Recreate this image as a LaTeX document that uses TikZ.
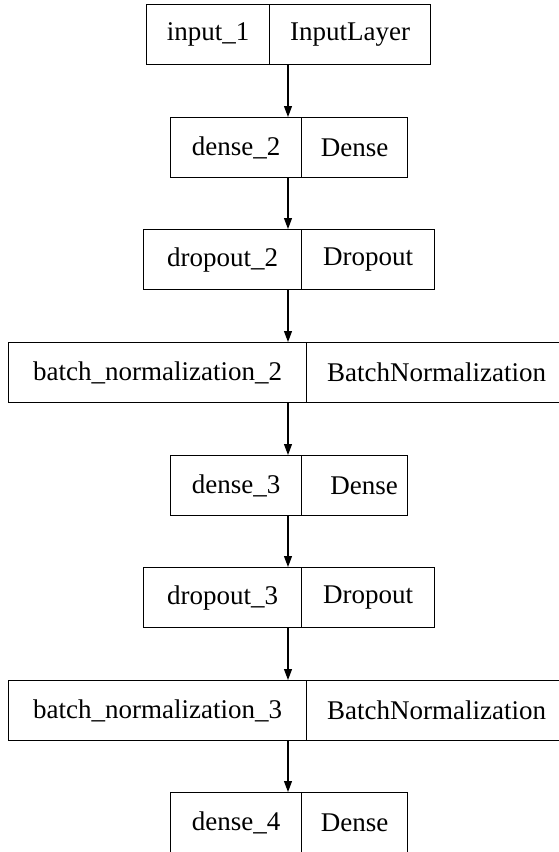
\documentclass[tikz,border=0pt]{standalone}
\usepackage{fontspec}
\setmainfont{Liberation Serif}
\usetikzlibrary{arrows.meta}

\begin{document}
\begin{tikzpicture}[x=1pt, y=-1pt,
    cell/.style={draw, line width=1.1pt, minimum height=60pt, inner sep=0pt,
        anchor=north west, font=\fontsize{27}{32}\selectfont},
    flow/.style={line width=1.1pt, -{Triangle[length=11pt, width=8pt]}}]
    \useasboundingbox (0,0) rectangle (559,852);
    \coordinate (axis) at (288,0);

    % Layer boxes: name | class
    \node[cell, minimum width=123pt] (input1) at (146,4) {input\_1};
    \node[cell, minimum width=161pt] (input1cls) at (269,4) {InputLayer};

    \node[cell, minimum width=131pt] (dense2) at (170,117) {dense\_2};
    \node[cell, minimum width=106pt] (dense2cls) at (301,117) {Dense};

    \node[cell, minimum width=158pt] (dropout2) at (143,229) {dropout\_2};
    \node[cell, minimum width=133pt] (dropout2cls) at (301,229) {Dropout};

    \node[cell, minimum width=298pt] (batchnorm2) at (8,342) {batch\_normalization\_2};
    \node[cell, minimum width=260pt] (batchnorm2cls) at (306,342) {BatchNormalization};

    \node[cell, minimum width=131pt] (dense3) at (170,455) {dense\_3};
    \node[cell, minimum width=106pt] (dense3cls) at (301,455) {\hspace*{19pt}Dense};

    \node[cell, minimum width=158pt] (dropout3) at (143,567) {dropout\_3};
    \node[cell, minimum width=133pt] (dropout3cls) at (301,567) {Dropout};

    \node[cell, minimum width=298pt] (batchnorm3) at (8,680) {batch\_normalization\_3};
    \node[cell, minimum width=260pt] (batchnorm3cls) at (306,680) {BatchNormalization};

    \node[cell, minimum width=131pt] (dense4) at (170,792) {dense\_4};
    \node[cell, minimum width=106pt] (dense4cls) at (301,792) {Dense};

    % Arrows between layers
    \foreach \a/\b in {input1/dense2, dense2/dropout2, dropout2/batchnorm2,
        batchnorm2/dense3, dense3/dropout3, dropout3/batchnorm3, batchnorm3/dense4}
        \draw[flow] (\a.south -| axis) -- (\b.north -| axis);
\end{tikzpicture}
\end{document}
